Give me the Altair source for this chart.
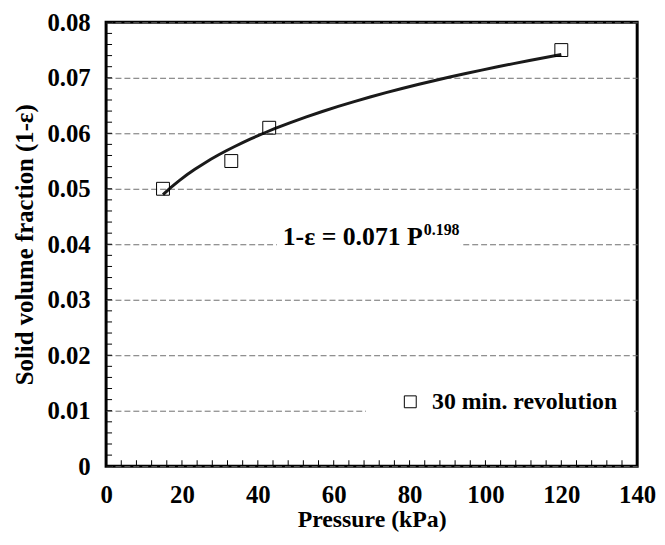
import altair as alt
import pandas as pd

# ---- data ----
pressure = [15, 33, 43, 120]                 # kPa
solid_fraction = [0.050, 0.055, 0.061, 0.075]  # 1-eps
series_name = "30 min. revolution"

x_ticks = [0, 20, 40, 60, 80, 100, 120, 140]
y_ticks = [0, 0.01, 0.02, 0.03, 0.04, 0.05, 0.06, 0.07, 0.08]
x_minor = [4 * i for i in range(36)]
y_minor = [round(0.002 * i, 3) for i in range(41)]

eq_main = "1-ε = 0.071 P"
eq_sup = "0.198"

FONT = "Liberation Serif"
W, H = 536, 448

df = pd.DataFrame({"P": pressure, "phi": solid_fraction,
                   "series": [series_name] * len(pressure)})

xscale = alt.Scale(domain=[0, 140], nice=False)
yscale = alt.Scale(domain=[0, 0.08], nice=False)

x_axis = alt.Axis(values=x_ticks, format="d", grid=False, ticks=False, domain=False,
                  labelPadding=17, labelFlush=False,
                  title="Pressure (kPa)", titlePadding=0)
y_axis = alt.Axis(values=y_ticks, grid=True, gridDash=[6, 3], gridColor="#6e6e6e",
                  gridWidth=1, ticks=False, domain=False,
                  labelExpr="datum.value == 0 ? '0' : format(datum.value, '.2f')",
                  labelPadding=16,
                  title="Solid volume fraction (1-ε)", titlePadding=10)


def X(field):
    return alt.X(field, scale=xscale, axis=x_axis)


def Y(field):
    return alt.Y(field, scale=yscale, axis=y_axis)


# white masks under the annotation and legend (hide grid lines there)
masks = pd.DataFrame({"x": [45.0, 68.5], "x2": [93.5, 139.2],
                      "y": [0.0385, 0.0085], "y2": [0.0425, 0.0128]})

points_layer = alt.Chart(df).mark_point(shape="square", filled=False, color="black",
                                         size=169, strokeWidth=1, opacity=1).encode(
    x=X("P:Q"),
    y=Y("phi:Q"),
    shape=alt.Shape("series:N", scale=alt.Scale(range=["square"]),
                    legend=alt.Legend(orient="none", legendX=295, legendY=371, title=None,
                                      padding=0, labelLimit=0,
                                      symbolSize=144, symbolStrokeColor="black",
                                      symbolFillColor="white", symbolStrokeWidth=1,
                                      labelOffset=10)),
)

mask_layer = alt.Chart(masks).mark_rect(color="white").encode(
    x=X("x:Q"), x2="x2:Q", y=Y("y:Q"), y2="y2:Q")

xminor_layer = alt.Chart(pd.DataFrame({"v": x_minor})).mark_rule(
    color="black", strokeWidth=1).encode(
    x=X("v:Q"), y=alt.value(H), y2=alt.value(H - 6))

yminor_layer = alt.Chart(pd.DataFrame({"w": y_minor})).mark_rule(
    color="black", strokeWidth=1).encode(
    y=Y("w:Q"), x=alt.value(0), x2=alt.value(6))

fit_layer = alt.Chart(df).transform_regression(
    "P", "phi", method="pow").mark_line(color="#1a1a1a", strokeWidth=3).encode(
    x=X("P:Q"), y=Y("phi:Q"))

eq_df = pd.DataFrame({"x": [83.5], "y": [0.0398], "main": [eq_main], "sup": [eq_sup]})
eq_main_layer = alt.Chart(eq_df).mark_text(
    align="right", baseline="alphabetic", font=FONT, fontSize=26,
    fontWeight="bold", color="black").encode(
    x=X("x:Q"), y=Y("y:Q"), text="main:N")
eq_sup_layer = alt.Chart(eq_df).mark_text(
    align="left", baseline="alphabetic", font=FONT, fontSize=16, dx=1, dy=-10,
    fontWeight="bold", color="black").encode(
    x=X("x:Q"), y=Y("y:Q"), text="sup:N")

chart = alt.layer(
    mask_layer, xminor_layer, yminor_layer, fit_layer,
    eq_main_layer, eq_sup_layer, points_layer
).properties(
    width=W, height=H,
    background="white",
    autosize=alt.AutoSizeParams(type="none"),
    padding={"left": 99, "top": 12, "right": 20, "bottom": 69},
).configure_view(
    stroke="black", strokeWidth=3
).configure_axis(
    labelFont=FONT, labelFontSize=25, labelFontWeight="bold", labelColor="black",
    titleFont=FONT, titleFontSize=25, titleFontWeight="bold", titleColor="black",
).configure_axisX(
    titleFontSize=24,
).configure_legend(
    labelFont=FONT, labelFontSize=24, labelFontWeight="bold", labelColor="black",
)

chart.save("out.html", embed_options={"renderer": "svg", "actions": False})
